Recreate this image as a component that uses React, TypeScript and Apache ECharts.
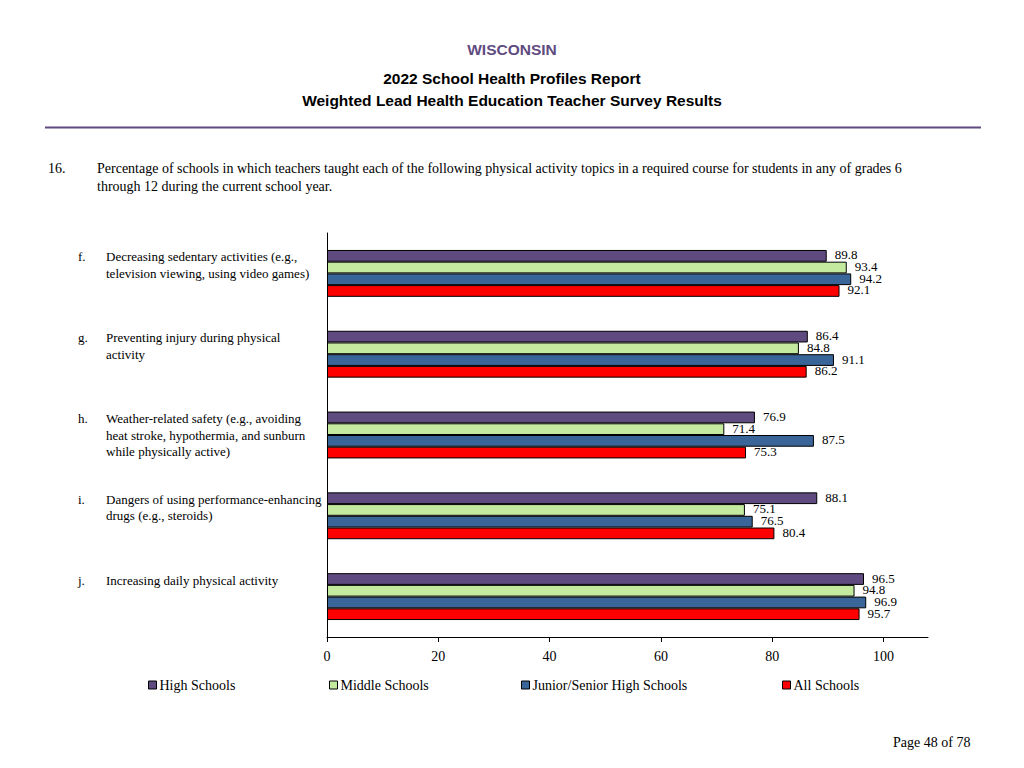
import React, { useEffect, useRef } from "react";
import * as echarts from "echarts";

const letters = ["f.", "g.", "h.", "i.", "j."];
const topics = [
  "Decreasing sedentary activities (e.g.,\ntelevision viewing, using video games)",
  "Preventing injury during physical\nactivity",
  "Weather-related safety (e.g., avoiding\nheat stroke, hypothermia, and sunburn\nwhile physically active)",
  "Dangers of using performance-enhancing\ndrugs (e.g., steroids)",
  "Increasing daily physical activity",
];
const seriesNames = ["High Schools", "Middle Schools", "Junior/Senior High Schools", "All Schools"];
const highSchools = [89.8, 86.4, 76.9, 88.1, 96.5];
const middleSchools = [93.4, 84.8, 71.4, 75.1, 94.8];
const juniorSenior = [94.2, 91.1, 87.5, 76.5, 96.9];
const allSchools = [92.1, 86.2, 75.3, 80.4, 95.7];
const xTicks = [0, 20, 40, 60, 80, 100];

const colors = ["#5f4b80", "#c4eaa0", "#3a6598", "#ff0000"];
const legendLefts = [148, 329, 521, 782];
const serif = "'Liberation Serif', 'Times New Roman', serif";
const sans = "'Liberation Sans', Arial, sans-serif";

export default function App() {
  const ref = useRef<HTMLDivElement>(null);
  useEffect(() => {
    if (!ref.current) return;
    const chart = echarts.init(ref.current, null, { renderer: "svg" });
    const seriesData = [highSchools, middleSchools, juniorSenior, allSchools];
    const cats = letters.map((l, i) => l + "|" + topics[i]);
    chart.setOption({
      animation: false,
      backgroundColor: "#ffffff",
      title: [
        {
          text: "WISCONSIN",
          left: "center",
          top: 36,
          textStyle: { fontFamily: sans, fontSize: 15.5, fontWeight: "bold", color: "#5f4b80" },
        },
        {
          text: "2022 School Health Profiles Report",
          left: "center",
          top: 65,
          textStyle: { fontFamily: sans, fontSize: 15.5, fontWeight: "bold", color: "#000" },
        },
        {
          text: "Weighted Lead Health Education Teacher Survey Results",
          left: "center",
          top: 87,
          textStyle: { fontFamily: sans, fontSize: 15.5, fontWeight: "bold", color: "#000" },
        },
      ],
      graphic: [
        {
          type: "line",
          shape: { x1: 45, y1: 127.5, x2: 981, y2: 127.5 },
          style: { stroke: "#5f4b80", lineWidth: 2 },
        },
        {
          type: "text",
          left: 48,
          top: 159,
          style: { text: "16.", font: "14px " + serif, fill: "#000", lineHeight: 18 },
        },
        {
          type: "text",
          left: 97,
          top: 159,
          style: {
            text:
              "Percentage of schools in which teachers taught each of the following physical activity topics in a required course for students in any of grades 6\nthrough 12 during the current school year.",
            font: "14px " + serif,
            fill: "#000",
            lineHeight: 18,
          },
        },
        {
          type: "text",
          left: 893,
          top: 735,
          style: { text: "Page 48 of 78", font: "14px " + serif, fill: "#000" },
        },
      ],
      legend: seriesNames.map((n, i) => ({
        data: [n],
        left: legendLefts[i] - 5,
        top: 673,
        itemWidth: 8,
        itemHeight: 8,
        itemGap: 0,
        icon: "rect",
        textStyle: { fontFamily: serif, fontSize: 14, color: "#000", padding: [0, 0, 0, -2] },
        itemStyle: { borderColor: "#000", borderWidth: 1 },
      })),
      grid: { left: 327, top: 233, right: 96, bottom: 131, containLabel: false },
      xAxis: {
        type: "value",
        min: 0,
        max: 108,
        interval: 20,
        axisLine: { show: true, lineStyle: { color: "#000", width: 1 } },
        axisTick: { show: true, length: 5, lineStyle: { color: "#000" }, customValues: xTicks },
        axisLabel: {
          customValues: xTicks,
          fontFamily: serif,
          fontSize: 14,
          color: "#000",
          margin: 12,
        },
        splitLine: { show: false },
      },
      yAxis: {
        type: "category",
        inverse: true,
        data: cats,
        axisLine: { show: true, lineStyle: { color: "#000", width: 1 } },
        axisTick: { show: false },
        axisLabel: {
          align: "left",
          margin: 249,
          formatter: (v: string) => {
            const [l, t] = v.split("|");
            const lines = t.split("\n");
            while (lines.length < 3) lines.push(" ");
            return lines
              .map((ln, k) => "{l|" + (k === 0 ? l : " ") + "}{t|" + ln + "}")
              .join("\n");
          },
          rich: {
            l: { width: 28, fontFamily: serif, fontSize: 13, color: "#000", lineHeight: 16.5 },
            t: { fontFamily: serif, fontSize: 13, color: "#000", lineHeight: 16.5 },
          },
        },
      },
      series: seriesNames.map((n, i) => ({
        name: n,
        type: "bar",
        data: seriesData[i],
        barGap: "0%",
        barCategoryGap: "42%",
        itemStyle: { color: colors[i], borderColor: "#000", borderWidth: 1 },
        label: {
          show: true,
          position: "right",
          distance: 8,
          fontFamily: serif,
          fontSize: 13,
          color: "#000",
          offset: [0, -1],
          formatter: (p: any) => p.value.toFixed(1),
        },
      })),
    });
    return () => chart.dispose();
  }, []);
  return (
    <div
      ref={ref}
      style={{ position: "fixed", left: 0, top: 0, width: 1024, height: 768, background: "#fff" }}
    />
  );
}
